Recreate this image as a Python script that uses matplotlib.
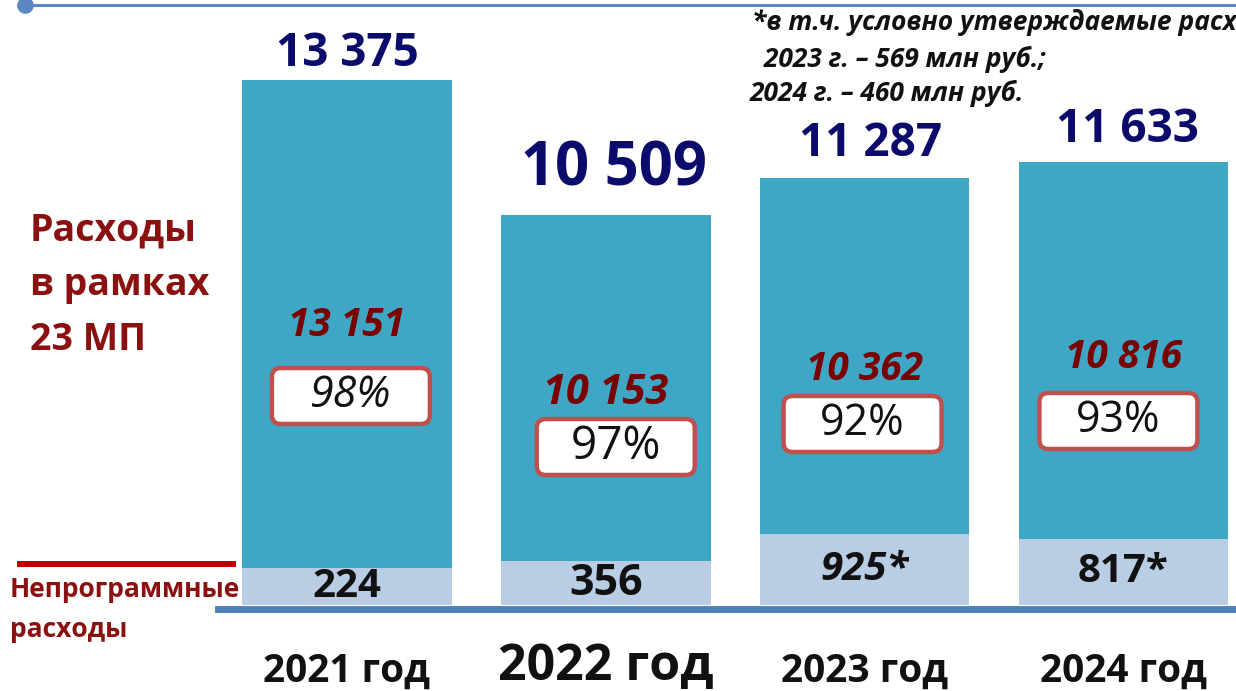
import numpy as np
import matplotlib
matplotlib.use("Agg")
import matplotlib.pyplot as plt
from matplotlib.patches import FancyBboxPatch
from matplotlib.lines import Line2D
from matplotlib.transforms import IdentityTransform

plt.rcParams['font.family'] = ['Open Sans', 'DejaVu Sans']

# === Daten ===
years = ['2021 год', '2022 год', '2023 год', '2024 год']
program = [13151, 10153, 10362, 10816]        # Расходы в рамках 23 МП
nonprogram = [224, 356, 925, 817]              # Непрограммные расходы
totals = [13375, 10509, 11287, 11633]
shares = ['98%', '97%', '92%', '93%']
total_labels = ['13 375', '10 509', '11 287', '11 633']
program_labels = ['13 151', '10 153', '10 362', '10 816']
nonprog_labels = ['224', '356', '925*', '817*']
footnote = ['*в т.ч. условно утверждаемые расходы:',
            ' 2023 г. – 569 млн руб.;',
            '2024 г. – 460 млн руб.']

# === Farben ===
c_top = '#3FA6C5'
c_low = '#B9CDE5'
c_line = '#4F81BD'
c_navy = '#0B0B6B'
c_red = '#7A0000'
c_box = '#C0504D'

# piecewise scale (the original slide is not drawn to scale)
knots_v = [0, 200, 1000, 10500, 14500]
knots_p = [0, 36, 75, 390, 578]


def fwd(v):
    return np.interp(v, knots_v, knots_p)


def inv(p):
    return np.interp(p, knots_p, knots_v)


W, H = 1236, 691
fig = plt.figure(figsize=(W / 100, H / 100), dpi=100)
ax = fig.add_axes([218 / W, (H - 605) / H, 1018 / W, 578 / H])
ax.set_yscale('function', functions=(fwd, inv))

x = np.arange(len(years))
ax.bar(x, nonprogram, width=0.81, color=c_low, zorder=2)
ax.bar(x, program, width=0.81, bottom=nonprogram, color=c_top, zorder=2)
ax.set_xlim(-0.498, 3.435)
ax.set_ylim(0, 14500)
ax.axis('off')

# === Beschriftungen ===
total_gap = [10, 21, 16, 14]
total_size = [33, 43, 33, 33]
low_size = [29, 31, 29, 29]
prog_size = [28, 30, 28, 28]
pct_size = [31, 33, 31, 31]
total_dx = [0, 6, 4, 3]
year_y = [-0.115, -0.108, -0.115, -0.115]
for i in x:
    ax.annotate(total_labels[i], (i, totals[i]), xytext=(total_dx[i], total_gap[i]),
                textcoords='offset points', ha='center', va='baseline',
                fontsize=total_size[i], fontweight='bold', color=c_navy)

    mid = inv(fwd(nonprogram[i]) / 2)
    ax.text(i, mid, nonprog_labels[i], ha='center', va='center', fontsize=low_size[i],
            fontweight='bold', color='#111111',
            style='italic' if i == 2 else 'normal', zorder=4)

    ax.text(i, year_y[i], years[i], transform=ax.get_xaxis_transform(),
            ha='center', va='center', fontsize=36 if i == 1 else 28,
            fontweight='bold', color='#111111', clip_on=False)

prog_y = [325, 393, 370, 357]
box_y = [396, 447, 424, 421]
box_dx = [4, 10, -2, -5]
for i in x:
    ax.text(i, (605 - prog_y[i]) / 578, program_labels[i],
            transform=ax.get_xaxis_transform(), ha='center', va='center',
            fontsize=prog_size[i], fontweight='bold', style='italic',
            color=c_red, zorder=4)
    cx = ax.transData.transform((i, 1000))[0] + box_dx[i]
    cy = H - box_y[i]
    ax.add_patch(FancyBboxPatch((cx - 79, cy - 28), 158, 56,
                                boxstyle='round,pad=0,rounding_size=9',
                                transform=IdentityTransform(), fc='white',
                                ec=c_box, lw=3.2, zorder=5, clip_on=False))
    ax.text(cx, cy, shares[i], transform=IdentityTransform(), ha='center',
            va='center', fontsize=pct_size[i], color='#111111',
            style='italic' if i == 0 else 'normal', zorder=6)

# === Linien ===
fig.add_artist(Line2D([218 / W, 1], [1 - 609 / H] * 2, color=c_line, lw=5))
fig.add_artist(Line2D([25 / W, 1], [1 - 4.5 / H] * 2, color='#5B88C2', lw=2.2))
fig.add_artist(Line2D([25 / W], [1 - 4.5 / H], marker='o', ms=11,
                      color='#5B88C2'))
fig.add_artist(Line2D([20 / W, 233 / W], [1 - 564 / H] * 2, color='#C00000', lw=4.3))

# === Texte links ===
fig.text(30 / W, 1 - 285 / H, 'Расходы\nв рамках\n23 МП', ha='left', va='center',
         fontsize=27, fontweight='bold', color='#8B1010', linespacing=1.58)
fig.text(10 / W, 1 - 576 / H, 'Непрограммные\nрасходы', ha='left', va='top',
         fontsize=19, fontweight='bold', color='#8B1010', linespacing=1.6)

# === Fussnote (rechts abgeschnitten wie im Original) ===
fn_x = [752, 757, 750]
fn_y = [30, 67, 101]
for t, px, py in zip(footnote, fn_x, fn_y):
    fig.text(px / W, 1 - py / H, t, ha='left', va='baseline', fontsize=19,
             fontweight='bold', style='italic', color='#111111')

fig.savefig('out.png', dpi=100)
